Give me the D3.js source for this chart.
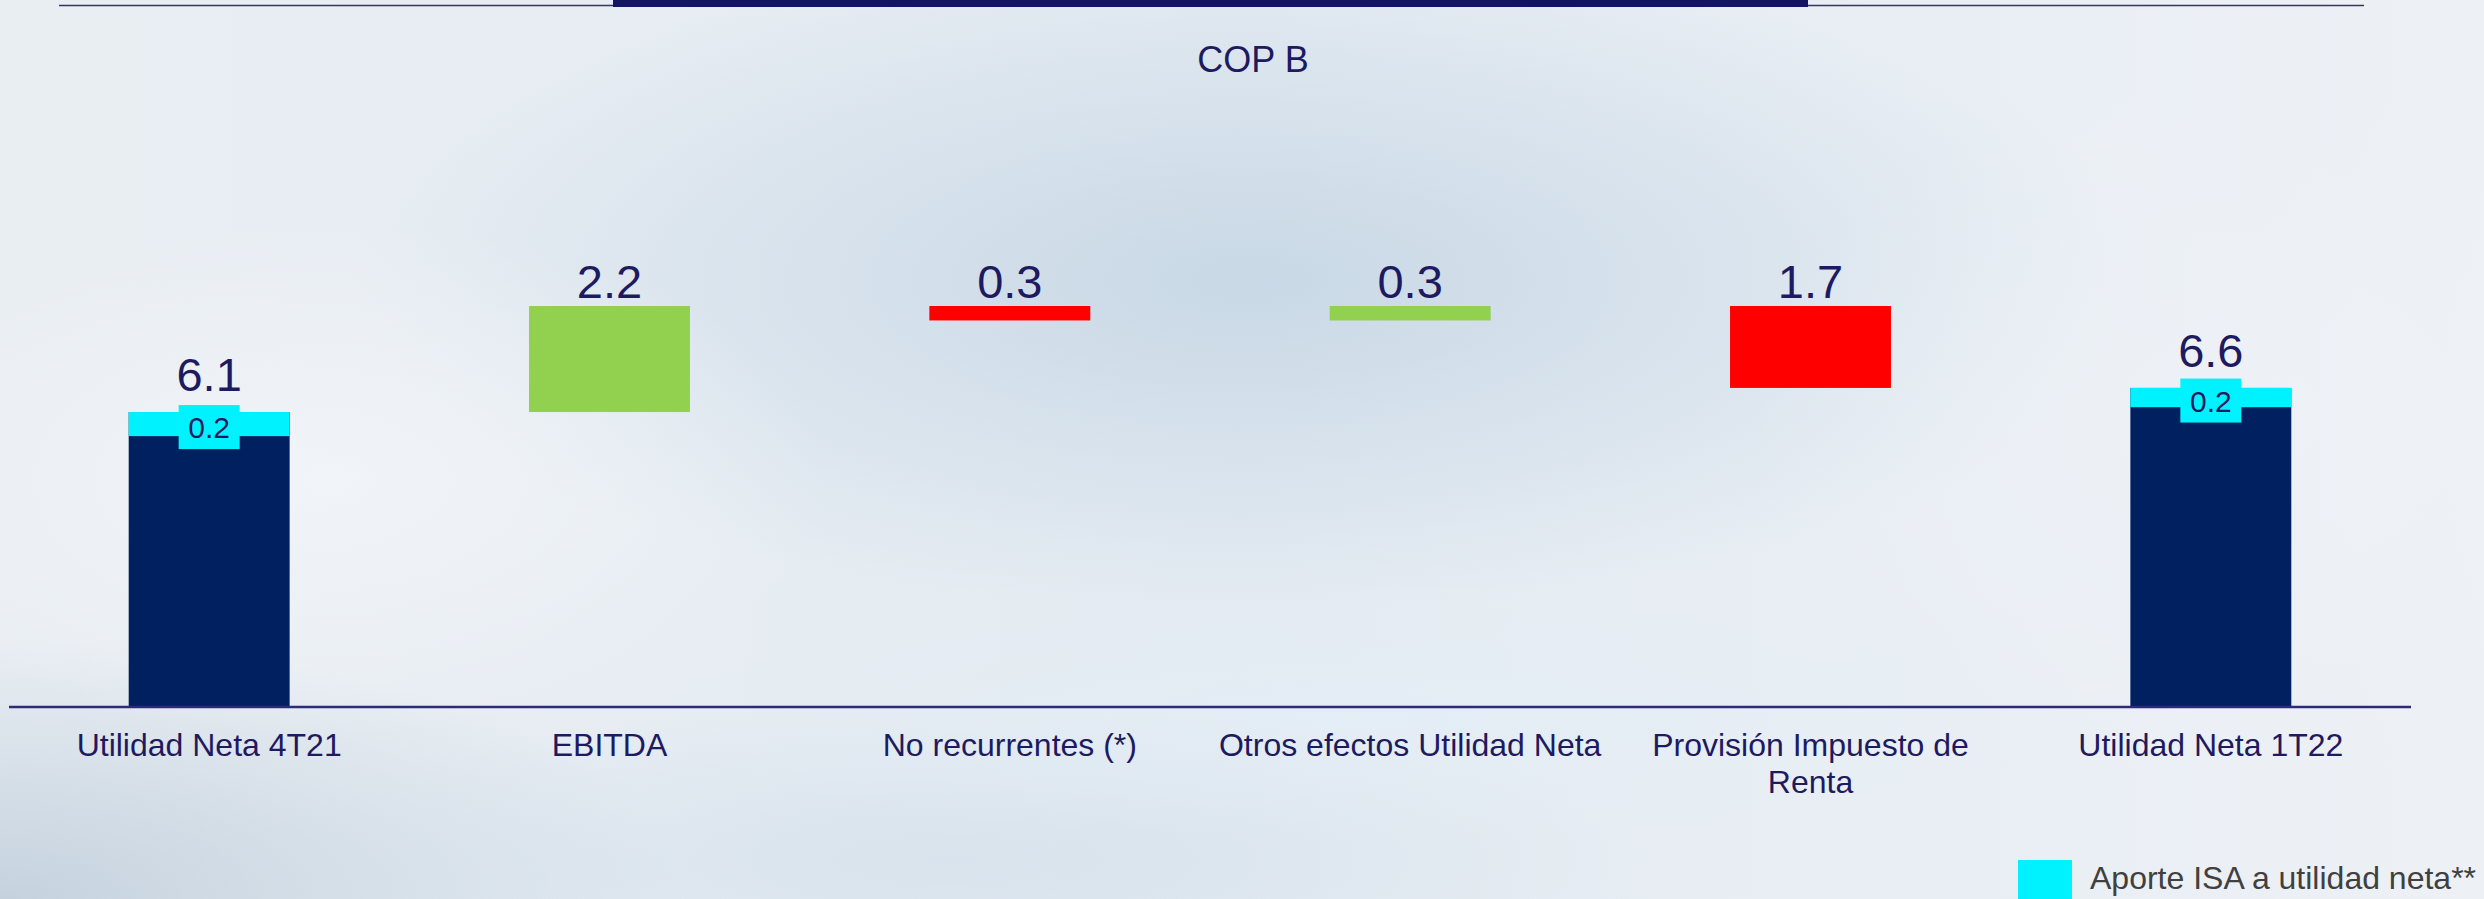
<!DOCTYPE html>
<html>
<head>
<meta charset="utf-8">
<script src="https://cdn.jsdelivr.net/npm/d3@7"></script>
<style>
  html, body { margin: 0; padding: 0; overflow: hidden; }
  svg { display: block; }
</style>
</head>
<body>
<svg id="chart" width="2484" height="899"></svg>
<script>
// ---- data ----
const categories = ["Utilidad Neta 4T21", "EBITDA", "No recurrentes (*)", "Otros efectos Utilidad Neta", "Provisión Impuesto de Renta", "Utilidad Neta 1T22"];
const kinds = ["total", "up", "down", "up", "down", "total"];
const values = [6.1, 2.2, 0.3, 0.3, 1.7, 6.6];
const valueLabels = ["6.1", "2.2", "0.3", "0.3", "1.7", "6.6"];
const isaSegment = [0.5, 0, 0, 0, 0, 0.4];      // cyan segment height as drawn
const isaLabels = ["0.2", "", "", "", "", "0.2"];
const categoryLines = [["Utilidad Neta 4T21"], ["EBITDA"], ["No recurrentes (*)"], ["Otros efectos Utilidad Neta"], ["Provisión Impuesto de", "Renta"], ["Utilidad Neta 1T22"]];
const titleText = "COP B";
const legendText = "Aporte ISA a utilidad neta**";

const colors = { total: "#00205f", up: "#92d050", down: "#ff0000", isa: "#00f2ff", text: "#1e1a60", legend: "#404040" };

const W = 2484, H = 899;
const svg = d3.select("#chart");
const defs = svg.append("defs");

// ---- background ----
const lg = defs.append("linearGradient").attr("id", "bgLin").attr("x1", 0).attr("y1", 0).attr("x2", 1).attr("y2", 0);
lg.append("stop").attr("offset", "0%").attr("stop-color", "#e9eef3");
lg.append("stop").attr("offset", "50%").attr("stop-color", "#e4ebf2");
lg.append("stop").attr("offset", "100%").attr("stop-color", "#edf1f6");
svg.append("rect").attr("width", W).attr("height", H).attr("fill", "url(#bgLin)");

function blob(id, cx, cy, rx, ry, color, op) {
  const g = defs.append("radialGradient").attr("id", id);
  g.append("stop").attr("offset", "0%").attr("stop-color", color).attr("stop-opacity", op);
  g.append("stop").attr("offset", "100%").attr("stop-color", color).attr("stop-opacity", 0);
  svg.append("ellipse").attr("cx", cx).attr("cy", cy).attr("rx", rx).attr("ry", ry).attr("fill", `url(#${id})`);
}
blob("b1", 1250, 280, 900, 330, "#c4d5e4", 0.85);
blob("b2", 0, 899, 700, 260, "#bccbd9", 0.8);
blob("b3", 950, 860, 700, 160, "#cfdde9", 0.6);
blob("b4", 330, 480, 500, 260, "#f3f6f9", 0.8);
blob("b5", 2250, 420, 500, 350, "#eef2f7", 0.7);
blob("b6", 1350, 720, 700, 120, "#e3eef6", 0.7);

// ---- top decoration ----
svg.append("line").attr("x1", 59).attr("x2", 2364).attr("y1", 5.5).attr("y2", 5.5)
  .attr("stroke", "#34307a").attr("stroke-width", 1.5);
svg.append("rect").attr("x", 613).attr("y", 0).attr("width", 1195).attr("height", 7).attr("fill", "#141464");

// ---- scales ----
const x = d3.scaleBand().domain(categories).range([9, 2411]).paddingInner(0.598).paddingOuter(0.299);
const y = d3.scaleLinear().domain([0, 8.3]).range([706, 306]);

// waterfall ranges
let running = 0;
const bars = categories.map((c, i) => {
  let lo, hi;
  if (kinds[i] === "total") { lo = 0; hi = values[i]; running = values[i]; }
  else if (kinds[i] === "up") { lo = running; hi = running + values[i]; running = hi; }
  else { hi = running; lo = running - values[i]; running = lo; }
  return { c, i, lo, hi, kind: kinds[i] };
});

// title
svg.append("text").attr("x", 1253).attr("y", 71.5).attr("text-anchor", "middle")
  .attr("font-family", "Liberation Sans, Arial, sans-serif").attr("font-size", 36)
  .attr("fill", colors.text).text(titleText);

// bars
const g = svg.append("g");
g.selectAll("rect.bar").data(bars).join("rect")
  .attr("x", d => x(d.c)).attr("width", x.bandwidth())
  .attr("y", d => y(d.hi)).attr("height", d => y(d.lo) - y(d.hi))
  .attr("fill", d => colors[d.kind]);

// ISA segments
const isaBars = bars.filter(d => isaSegment[d.i] > 0);
g.selectAll("rect.isa").data(isaBars).join("rect")
  .attr("x", d => x(d.c)).attr("width", x.bandwidth())
  .attr("y", d => y(d.hi)).attr("height", d => y(d.hi - isaSegment[d.i]) - y(d.hi))
  .attr("fill", colors.isa);

// ISA label boxes
const boxW = 61, boxH = 44;
const boxCy = d => (y(d.hi) + y(d.hi - isaSegment[d.i])) / 2 + 3;
g.selectAll("rect.isabox").data(isaBars).join("rect")
  .attr("x", d => x(d.c) + x.bandwidth() / 2 - boxW / 2).attr("width", boxW)
  .attr("y", d => boxCy(d) - boxH / 2).attr("height", boxH)
  .attr("fill", colors.isa);
g.selectAll("text.isal").data(isaBars).join("text")
  .attr("x", d => x(d.c) + x.bandwidth() / 2).attr("y", d => boxCy(d) + 11)
  .attr("text-anchor", "middle")
  .attr("font-family", "Liberation Sans, Arial, sans-serif").attr("font-size", 30)
  .attr("fill", colors.text).text(d => isaLabels[d.i]);

// value labels
g.selectAll("text.val").data(bars).join("text")
  .attr("x", d => x(d.c) + x.bandwidth() / 2)
  .attr("y", d => y(d.hi) - (d.kind === "total" ? 21 : 8))
  .attr("text-anchor", "middle")
  .attr("font-family", "Liberation Sans, Arial, sans-serif").attr("font-size", 47)
  .attr("fill", colors.text).text(d => valueLabels[d.i]);

// axis line
svg.append("line").attr("x1", 9).attr("x2", 2411).attr("y1", y(0) + 1).attr("y2", y(0) + 1)
  .attr("stroke", "#2e2a78").attr("stroke-width", 2.5);

// category labels
const lab = svg.append("g");
bars.forEach(d => {
  const t = lab.append("text").attr("text-anchor", "middle")
    .attr("font-family", "Liberation Sans, Arial, sans-serif").attr("font-size", 32)
    .attr("fill", colors.text);
  categoryLines[d.i].forEach((line, k) => {
    t.append("tspan").attr("x", x(d.c) + x.bandwidth() / 2).attr("y", 756 + k * 37).text(line);
  });
});

// legend
svg.append("rect").attr("x", 2018).attr("y", 860).attr("width", 54).attr("height", 54).attr("fill", colors.isa);
svg.append("text").attr("x", 2090).attr("y", 889).attr("font-family", "Liberation Sans, Arial, sans-serif")
  .attr("font-size", 32).attr("fill", colors.legend).text(legendText);
</script>
</body>
</html>
